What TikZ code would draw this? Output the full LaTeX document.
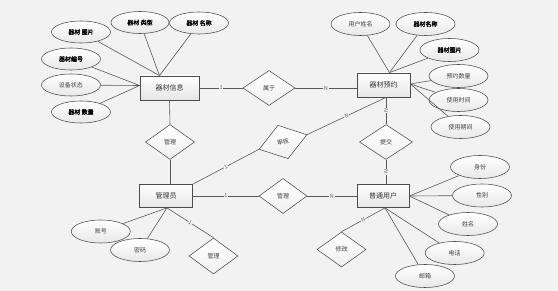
\documentclass[tikz,border=0pt]{standalone}
\usepackage{fontspec}
\setmainfont{Noto Sans CJK SC}[AutoFakeBold=2]
\usetikzlibrary{shapes.geometric,shadows,calc}
\definecolor{bg}{HTML}{F2F2F2}
\begin{document}
\begin{tikzpicture}[x=1pt,y=-1pt,
  ent/.style={draw=black!70, line width=0.8pt, top color=white, bottom color=black!10,
    minimum width=53pt, minimum height=23pt, inner sep=0pt,
    drop shadow={shadow xshift=0.7pt, shadow yshift=-0.7pt, fill=black!30},
    font=\fontsize{7}{8}\selectfont, text=black!80},
  attr/.style={ellipse, draw=black!70, line width=0.55pt, top color=white, bottom color=black!9,
    minimum width=59pt, minimum height=23pt, inner sep=0pt,
    font=\fontsize{6}{7}\selectfont, text=black!75},
  battr/.style={attr, font=\fontsize{6}{7}\selectfont\bfseries, text=black},
  rel/.style={diamond, draw=black!70, line width=0.55pt, top color=white, bottom color=black!6,
    minimum width=49pt, minimum height=35pt, inner sep=0pt,
    font=\fontsize{6}{7}\selectfont, text=black!75},
  conn/.style={draw=black!65, line width=0.6pt},
  card/.style={fill=bg, inner sep=0.6pt, font=\fontsize{5.5}{6}\selectfont, text=black!60}]

\useasboundingbox[fill=bg] (0,0) rectangle (558,291);

% entities
\node[ent, minimum width=59pt, minimum height=24pt] (e1) at (169.5,88) {器材信息};
\node[ent, minimum height=24pt] (e2) at (383.5,85) {器材预约};
\node[ent] (e3) at (166,196) {管理员};
\node[ent, minimum width=52pt] (e4) at (383,196) {普通用户};

% relations
\node[rel, minimum width=52pt] (r1) at (269,88) {属于};
\node[rel] (r2) at (170,142) {管理};
\node[rel, minimum width=50pt, rotate=17] (r3) at (283,142) {审核};
\node[rel, minimum width=53pt] (r4) at (386,142) {提交};
\node[rel, minimum width=48pt] (r5) at (283,196) {管理};
\node[rel, minimum height=36pt] (r6) at (213.5,256) {管理};
\node[rel] (r7) at (341.5,249.5) {修改};

% attributes of 器材信息
\node[battr, minimum height=22pt] (a1) at (81,32) {器材 图片};
\node[battr, minimum width=58pt, minimum height=22pt] (a2) at (140,22.5) {器材 类型};
\node[battr, minimum height=22pt] (a3) at (199,23) {器材 名称};
\node[battr, minimum height=22pt] (a4) at (71,59) {器材编号};
\node[attr, minimum height=22pt] (a5) at (71,85) {设备状态};
\node[battr, minimum height=22pt] (a6) at (81,112) {器材 数量};

% attributes of 器材预约
\node[attr] (b1) at (360.5,24) {用户姓名};
\node[battr] (b2) at (425.5,24) {器材名称};
\node[battr] (b3) at (449.5,50) {器材图片};
\node[attr] (b4) at (458.5,76) {预约数量};
\node[attr] (b5) at (458.5,100) {使用时间};
\node[attr] (b6) at (460.5,127) {使用期间};

% attributes of 普通用户
\node[attr] (c1) at (480,167) {身份};
\node[attr] (c2) at (482,195.5) {性别};
\node[attr] (c3) at (468,224) {姓名};
\node[attr] (c4) at (454.7,253) {电话};
\node[attr] (c5) at (425,276) {邮箱};

% attributes of 管理员
\node[attr] (d1) at (100.8,231.5) {账号};
\node[attr] (d2) at (140,250) {密码};

% connection points
\coordinate (e1t) at ($(e1.north)+(-10,0)$);
\coordinate (e1l) at ($(e1.west)+(0,-2.5)$);
\coordinate (e2t) at ($(e2.north)+(6,0)$);
\coordinate (e2r) at ($(e2.east)+(0,-1)$);
\coordinate (e2b) at ($(e2.south)+(2.5,0)$);
\coordinate (e3b) at ($(e3.south)+(1,0)$);
\coordinate (e4b) at ($(e4.south)+(2,0)$);
\coordinate (e4r) at (e4.east);

% attribute links
\foreach \a in {a1,a2,a3} \draw[conn] (\a) -- (e1t);
\foreach \a in {a4,a5,a6} \draw[conn] (\a) -- (e1l);
\foreach \a in {b1,b2,b3} \draw[conn] (\a) -- (e2t);
\foreach \a in {b4,b5,b6} \draw[conn] (\a) -- (e2r);
\foreach \a in {c1,c2,c3} \draw[conn] (\a) -- (e4r);
\foreach \a in {c4,c5} \draw[conn] (\a) -- (e4b);
\foreach \a in {d1,d2} \draw[conn] (\a) -- (e3b);

% relationship links
\draw[conn] (e1) -- node[card]{1} (r1);
\draw[conn] (r1.east) -- node[card]{N} (r1.east -| e2.west);
\draw[conn] (e1.south) -- (r2.north);
\draw[conn] (r2.south) -- (r2.south |- e3.north);
\draw[conn] (e3.north east) -- node[card, sloped]{1} (r3.west);
\draw[conn] (r3.east) -- node[card, sloped]{N} (e2b);
\draw[conn] (e2b) -- node[card, rotate=90]{N} (r4.north);
\draw[conn] (r4.south) -- node[card, rotate=90]{N} (r4.south |- e4.north);
\draw[conn] (e3) -- node[card]{1} (r5);
\draw[conn] (r5) -- node[card]{N} (e4);
\draw[conn] (e3b) -- node[card, sloped]{1} (r6.north);
\draw[conn] (e4b) -- node[card, sloped]{N} (r7.north);
\end{tikzpicture}
\end{document}
